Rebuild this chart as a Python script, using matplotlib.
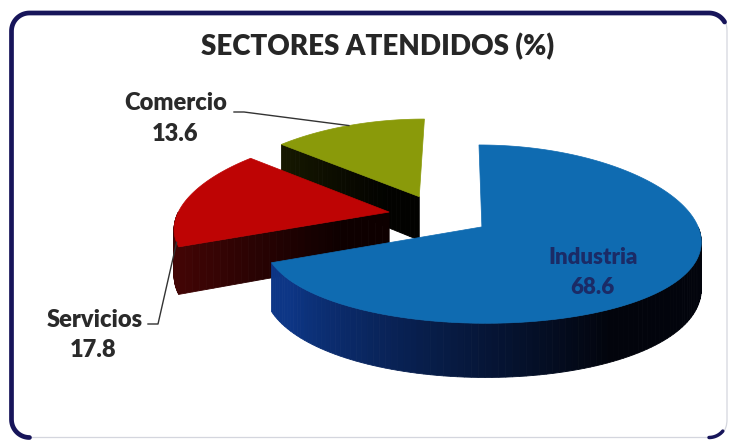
import numpy as np
import matplotlib.pyplot as plt
from matplotlib.patches import Polygon, FancyBboxPatch
from matplotlib.colors import to_rgb

# data
sectors = ['Industria', 'Servicios', 'Comercio']
values = [68.6, 17.8, 13.6]
title = 'SECTORES ATENDIDOS (%)'

# styling per slice
face_colors = ['#0F6BB1', '#BE0404', '#8A9A0A']
wall_light = ['#0D3686', '#420505', '#161800']
wall_dark = ['#02040C', '#0E0000', '#020200']

# projection of the tilted, exploded pie into pixel space
VX, CX, CY = 460.0, 439.0, 215.3
A, B = 212.0, 86.7
PX, PY = 0.15, 0.08
DEPTH = 45.0
EXPLODE = 0.24
FONT = ['Lato', 'DejaVu Sans']


def proj(X, Y, z):
    s = 1.0 / (1.0 + PX * Y)
    x = VX + (CX - VX + A * X) * s
    y = CY - B * Y / (1.0 + PY * Y) + z * DEPTH * s
    return x, y


def mix(c1, c2, f):
    a, b = np.array(to_rgb(c1)), np.array(to_rgb(c2))
    return tuple(a + (b - a) * f)


fig = plt.figure(figsize=(7.32, 4.43), dpi=100)
ax = fig.add_axes([0, 0, 1, 1])
ax.set_xlim(0, 732)
ax.set_ylim(443, 0)
ax.axis('off')

# frame: faint outline, heavy navy stroke along the left and top
x0, x1, y0, y1, r = 11.5, 727.0, 13.0, 437.5, 18.0
ax.add_patch(FancyBboxPatch((x0, y0), x1 - x0, y1 - y0,
                            boxstyle=f'round,pad=0,rounding_size={r}',
                            facecolor='white', edgecolor='#D4D6DE', linewidth=0.9, zorder=0))


def arc(cx, cy, a0, a1, n=20):
    t = np.radians(np.linspace(a0, a1, n))
    return list(cx + r * np.cos(t)), list(cy + r * np.sin(t))


xs, ys = [], []
for seg in (arc(x0 + r, y1 - r, 90, 180), arc(x0 + r, y0 + r, 180, 270),
            arc(x1 - r, y0 + r, 270, 330)):
    xs += seg[0]
    ys += seg[1]
ax.plot(xs, ys, color='#17155A', lw=3.4, solid_capstyle='round', zorder=1)
bx, by = arc(x1 - r, y1 - r, 40, 90)
ax.plot(bx, by, color='#17155A', lw=2.5, solid_capstyle='round', zorder=1)

total = sum(values)
start = 90.0
slices = []
for i, v in enumerate(values):
    sweep = 360.0 * v / total
    t1, t2 = start, start - sweep
    start = t2
    mid = np.radians((t1 + t2) / 2)
    ox, oy = EXPLODE * np.cos(mid), EXPLODE * np.sin(mid)
    slices.append(dict(i=i, t1=t1, t2=t2, ox=ox, oy=oy, mid=mid))


def rim(sl, ang_deg, z):
    a = np.radians(ang_deg)
    return proj(sl['ox'] + np.cos(a), sl['oy'] + np.sin(a), z)


def lerp(P, Q, f):
    return (P[0] + (Q[0] - P[0]) * f, P[1] + (Q[1] - P[1]) * f)


z = 2
for sl in sorted(slices, key=lambda s: -s['oy']):
    i = sl['i']
    apex_t = proj(sl['ox'], sl['oy'], 0)
    apex_b = proj(sl['ox'], sl['oy'], 1)
    angs = np.linspace(sl['t2'], sl['t1'], 160)

    # radial walls facing the viewer
    for edge, normal in ((sl['t1'], sl['t1'] + 90), (sl['t2'], sl['t2'] - 90)):
        if np.sin(np.radians(normal)) < -0.02:
            rt, rb = rim(sl, edge, 0), rim(sl, edge, 1)
            n = 30
            for k in range(n):
                f0, f1 = k / n, (k + 1) / n
                quad = [lerp(rt, apex_t, f0), lerp(rt, apex_t, f1),
                        lerp(rb, apex_b, f1), lerp(rb, apex_b, f0)]
                col = mix(wall_light[i], wall_dark[i], min(1, (f0 + f1) / 2 * 1.3))
                ax.add_patch(Polygon(quad, closed=True, facecolor=col, edgecolor=col,
                                     linewidth=0.6, zorder=z))
            z += 1

    # curved outer wall (front half only)
    for a0, a1 in zip(angs[:-1], angs[1:]):
        am = (a0 + a1) / 2
        if np.sin(np.radians(am)) < 0:
            quad = [rim(sl, a0, 0), rim(sl, a1, 0), rim(sl, a1, 1), rim(sl, a0, 1)]
            deg = am % 360
            f = np.clip((deg - 215) / (300 - 215), 0, 1)
            col = mix(wall_light[i], wall_dark[i], f)
            ax.add_patch(Polygon(quad, closed=True, facecolor=col, edgecolor=col,
                                 linewidth=0.6, zorder=z))
    z += 1

    # top face
    pts = [apex_t] + [rim(sl, a, 0) for a in angs]
    ax.add_patch(Polygon(pts, closed=True, facecolor=face_colors[i],
                         edgecolor=face_colors[i], linewidth=0.5, zorder=z))
    z += 1

txt = dict(fontfamily=FONT, fontweight='heavy', ha='center', va='center', zorder=50)

ax.text(378, 47, title, fontsize=20, color='#262626', **txt)

by_name = {s: (v, sl) for s, v, sl in zip(sectors, values, slices)}

# Comercio label with leader to the rim at the slice's middle angle
v, sl = by_name['Comercio']
ax.text(176, 103, sectors[2], fontsize=17, color='#2A2A2A', **txt)
ax.text(175, 134, f'{v:.1f}', fontsize=17, color='#2A2A2A', **txt)
end = rim(sl, np.degrees(sl['mid']), 0)
ax.plot([234, 244, end[0]], [112, 112, end[1]], color='#333333', lw=1.0, zorder=49)

# Servicios label with leader to the front corner
v, sl = by_name['Servicios']
ax.text(95, 320, sectors[1], fontsize=17, color='#2A2A2A', **txt)
ax.text(93, 350, f'{v:.1f}', fontsize=17, color='#2A2A2A', **txt)
end = rim(sl, sl['t1'] - 3, 0)
ax.plot([148, 158, end[0]], [324, 324, end[1]], color='#333333', lw=1.0, zorder=49)

# Industria label inside its slice
v, sl = by_name['Industria']
ax.text(593, 257, sectors[0], fontsize=16, color='#1B2B66', **txt)
ax.text(592, 288, f'{v:.1f}', fontsize=16, color='#1B2B66', **txt)

fig.savefig('out.png', dpi=100)
